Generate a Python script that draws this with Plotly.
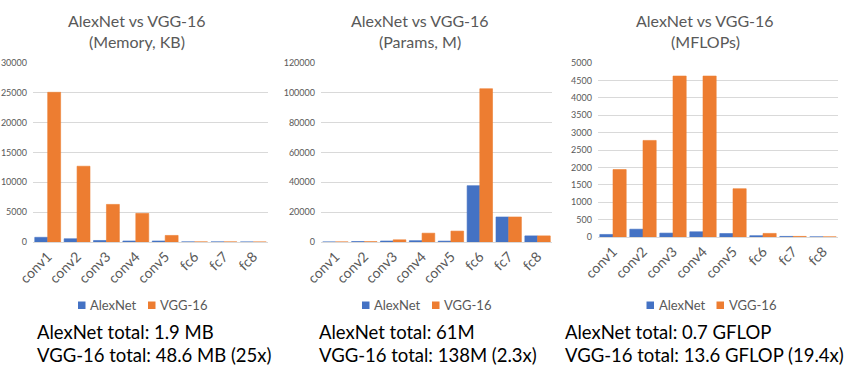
import plotly.graph_objects as go

layers = ["conv1", "conv2", "conv3", "conv4", "conv5", "fc6", "fc7", "fc8"]

mem_alexnet = [784, 547, 253, 169, 169, 16, 16, 4]
mem_vgg = [25088, 12700, 6300, 4800, 1100, 16, 16, 4]

params_alexnet = [23, 307, 664, 885, 590, 37749, 16777, 4097]
params_vgg = [39, 221, 1475, 5900, 7300, 102760, 16777, 4097]

flops_alexnet = [73, 224, 112, 150, 100, 38, 17, 4]
flops_vgg = [1937, 2775, 4625, 4625, 1387, 103, 17, 4]

title_line1 = ["AlexNet vs VGG-16", "AlexNet vs VGG-16", "AlexNet vs VGG-16"]
title_line2 = ["(Memory, KB)", "(Params, M)", "(MFLOPs)"]
y_ranges = [30000, 120000, 5000]
y_dticks = [5000, 20000, 500]
total_alexnet = ["AlexNet total: 1.9 MB", "AlexNet total: 61M", "AlexNet total: 0.7 GFLOP"]
total_vgg = ["VGG-16 total: 48.6 MB (25x)", "VGG-16 total: 138M (2.3x)", "VGG-16 total: 13.6 GFLOP (19.4x)"]
series_names = ["AlexNet", "VGG-16"]

W, H = 845, 373
BLUE = "#4472C4"
ORANGE = "#ED7D31"
GRAY = "#595959"
GRID = "#D9D9D9"
FONT = "Lato"

# panel geometry in pixels (left, right, y of zero, y of top)
panels = [(33, 268, 242, 63), (321, 552, 242, 63), (598, 838, 237, 63)]
title_cx = [137, 420, 705]
legend_cx = [140.5, 424.5, 709]
text_x = [35, 317, 563]


def px(x):
    return x / W


def py(y):
    return (H - y) / H


fig = go.Figure()
data = [(mem_alexnet, mem_vgg), (params_alexnet, params_vgg), (flops_alexnet, flops_vgg)]
colors = [BLUE, ORANGE]

for i, (a, v) in enumerate(data):
    n = "" if i == 0 else str(i + 1)
    for name, vals, col in zip(series_names, (a, v), colors):
        fig.add_trace(go.Bar(
            x=layers, y=vals, name=name, showlegend=False,
            xaxis="x" + n, yaxis="y" + n,
            marker=dict(color=col, line=dict(color=col, width=0.6)),
            hoverinfo="x+y+name",
        ))
    l, r, b, t = panels[i]
    fig.layout["xaxis" + n] = dict(
        domain=[px(l), px(r)], anchor="y" + n, automargin=False,
        tickangle=-45, tickfont=dict(family=FONT, size=14, color=GRAY),
        showline=True, linecolor=GRID, linewidth=1, ticks="", showgrid=False,
    )
    fig.layout["yaxis" + n] = dict(
        domain=[py(b), py(t)], anchor="x" + n, automargin=False,
        range=[0, y_ranges[i]], dtick=y_dticks[i], tickformat="d",
        tickfont=dict(family=FONT, size=9, color=GRAY),
        showgrid=True, gridcolor=GRID, gridwidth=1, zeroline=False,
        ticks="", ticklabelstandoff=5,
    )
    # titles
    for txt, yy in ((title_line1[i], 20), (title_line2[i], 42)):
        fig.add_annotation(
            text=txt, x=px(title_cx[i]), y=py(yy), xref="paper", yref="paper",
            xanchor="center", yanchor="middle", showarrow=False,
            font=dict(family=FONT, size=16, color=GRAY),
        )
    # legend (manual)
    c = legend_cx[i]
    for k, (name, col) in enumerate(zip(series_names, colors)):
        sx = c - 62.5 + k * 70
        fig.add_shape(type="rect", xref="paper", yref="paper",
                      x0=px(sx), x1=px(sx + 7.5), y0=py(309), y1=py(301.5),
                      fillcolor=col, line=dict(width=0))
        fig.add_annotation(
            text=name, x=px(sx + 10), y=py(305), xref="paper", yref="paper",
            xanchor="left", yanchor="middle", showarrow=False,
            font=dict(family=FONT, size=13, color=GRAY),
        )
    # totals
    for txt, yy in ((total_alexnet[i], 332), (total_vgg[i], 355)):
        fig.add_annotation(
            text=txt, x=px(text_x[i]), y=py(yy), xref="paper", yref="paper",
            xanchor="left", yanchor="middle", showarrow=False,
            font=dict(family=FONT, size=18.5, color="black"),
        )

fig.update_layout(
    width=W, height=H,
    margin=dict(l=0, r=0, t=0, b=0, autoexpand=False),
    paper_bgcolor="white", plot_bgcolor="white",
    barmode="group", bargap=0.12, bargroupgap=0,
    showlegend=False,
)

fig.write_html(
    "out.html",
    config={"displayModeBar": False},
    post_script="document.body.style.margin='0';document.body.style.overflow='hidden';",
)
